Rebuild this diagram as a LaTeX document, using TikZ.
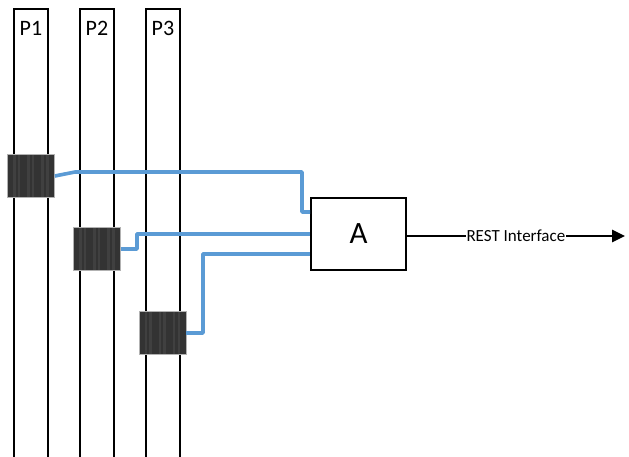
\documentclass[tikz,border=0pt]{standalone}
\usepackage{fontspec}
\setmainfont{Carlito}
\usetikzlibrary{arrows.meta}
\definecolor{wire}{HTML}{5B9BD5}
\definecolor{blockfill}{HTML}{333333}
\definecolor{blockstripe}{HTML}{404040}
\tikzset{
  lane/.style={draw=black, line width=2.6pt},
  block/.style={draw=black!30, line width=0.7pt, fill=blockfill, minimum width=47pt, minimum height=43pt, inner sep=0pt,
    path picture={
      \foreach \i in {0.12,0.22,0.42,0.52,0.72,0.82}
        \fill[blockstripe] ([xshift=\i*47pt]path picture bounding box.south west) rectangle ++(2.5pt,43pt);
    }},
  link/.style={draw=wire, line width=3.6pt, line join=round},
  comp/.style={draw=black, line width=1.6pt, fill=white, minimum width=95pt, minimum height=72pt, inner sep=0pt, font=\fontsize{31}{33}\selectfont},
  lbl/.style={font=\fontsize{22}{24}\selectfont},
}
\begin{document}
\begin{tikzpicture}[x=1pt, y=-1pt]
\useasboundingbox (0,0) rectangle (629,457);
% process lanes (open at the bottom)
\draw[lane] (14,470) -- (14,9) -- (48,9) -- (48,470);
\draw[lane] (80,470) -- (80,9) -- (114,9) -- (114,470);
\draw[lane] (146,470) -- (146,9) -- (180,9) -- (180,470);
\node[lbl] (p1) at (31,28) {P1};
\node[lbl] (p2) at (97,28) {P2};
\node[lbl] (p3) at (163,28) {P3};
% blocks
\node[block] (b1) at (31,176) {};
\node[block] (b2) at (97,249) {};
\node[block] (b3) at (162.5,333) {};
% component A
\node[comp] (a) at (358.5,234) {A};
% wires
\draw[link] (b1.east) -- (75,172) -- (302,172) -- (302,212) -- (a.west |- 0,212);
\draw[link] (b2.east) -- (137,249) -- (137,234) -- (a.west);
\draw[link] (b3.east) -- (203,333) -- (203,254) -- (a.west |- 0,254);
% REST interface
\coordinate (out) at (625,236);
\draw[line width=2.6pt, -{Triangle[length=13pt,width=12pt]}] (a.east |- out) -- (out)
  node[pos=0.5, fill=white, inner sep=0.5pt, font=\fontsize{17}{19}\selectfont] (rest) {REST Interface};
\end{tikzpicture}
\end{document}
